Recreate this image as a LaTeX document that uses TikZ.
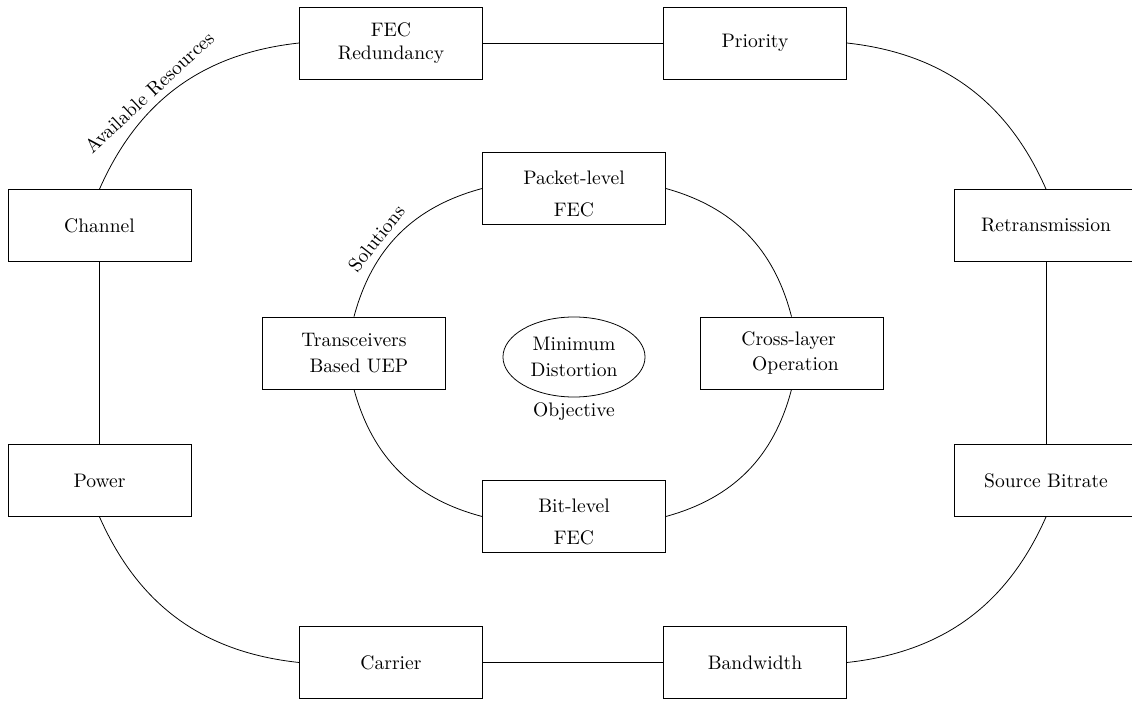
\documentclass[tikz,border=0pt]{standalone}
\usetikzlibrary{shapes.geometric}
\begin{document}
\begin{tikzpicture}[x=0.511pt,y=-0.511pt,
  every node/.style={font=\fontsize{10pt}{12pt}\selectfont},
  box/.style={draw, rectangle, minimum width=93.5pt, minimum height=36.8pt,
    align=center, inner sep=0pt},
  goal/.style={draw, ellipse, minimum width=72.6pt, minimum height=40.9pt,
    align=center, inner sep=0pt},
  loop/.style={bend right=30},
  arclabel/.style={pos=0.6, above, sloped},
]
\useasboundingbox (0,0) rectangle (1132,702);

% outer ring: available resources
\node[box] (fec)   at (391,43)     {FEC\\Redundancy};
\node[box] (prio)  at (755,43)     {Priority};
\node[box] (chan)  at (99.5,225.5) {Channel};
\node[box] (retr)  at (1046,225.5) {Retransmission};
\node[box] (power) at (99.5,480.5) {Power};
\node[box] (srcb)  at (1046,480.5) {Source Bitrate};
\node[box] (carr)  at (391,662.5)  {Carrier};
\node[box] (band)  at (755,662.5)  {Bandwidth};

% inner ring: solutions
\node[box] (pkt) at (574,188.5) {\rule{0pt}{12.5pt}Packet-level\\[4pt]FEC};
\node[box] (bit) at (574,516.5) {\rule{0pt}{12.5pt}Bit-level\\[4pt]FEC};
\node[box] (trx) at (354,353)   {Transceivers\\[1pt]\hspace*{5pt}Based UEP};
\node[box] (xl)  at (791.5,353) {Cross-layer\hspace*{3pt}\\[1pt]\hspace*{4pt}Operation};

% centre: objective
\node[goal] (obj) at (574,357) {Minimum\\[1pt]Distortion};
\node (objlabel) at (574,412) {Objective};

% straight links of the outer ring
\draw (fec) -- (prio);
\draw (chan) -- (power);
\draw (retr) -- (srcb);
\draw (carr) -- (band);

% curved links of the outer ring
\draw (fec.west) to[loop] node[arclabel] {Available Resources} (chan.north);
\draw (power.south) to[loop] (carr.west);
\draw (band.east) to[loop] (srcb.south);
\draw (retr.north) to[loop] (prio.east);

% curved links of the inner ring
\draw (pkt.west) to[loop] node[arclabel] {Solutions} (trx.north);
\draw (trx.south) to[loop] (bit.west);
\draw (bit.east) to[loop] (xl.south);
\draw (xl.north) to[loop] (pkt.east);
\end{tikzpicture}
\end{document}
